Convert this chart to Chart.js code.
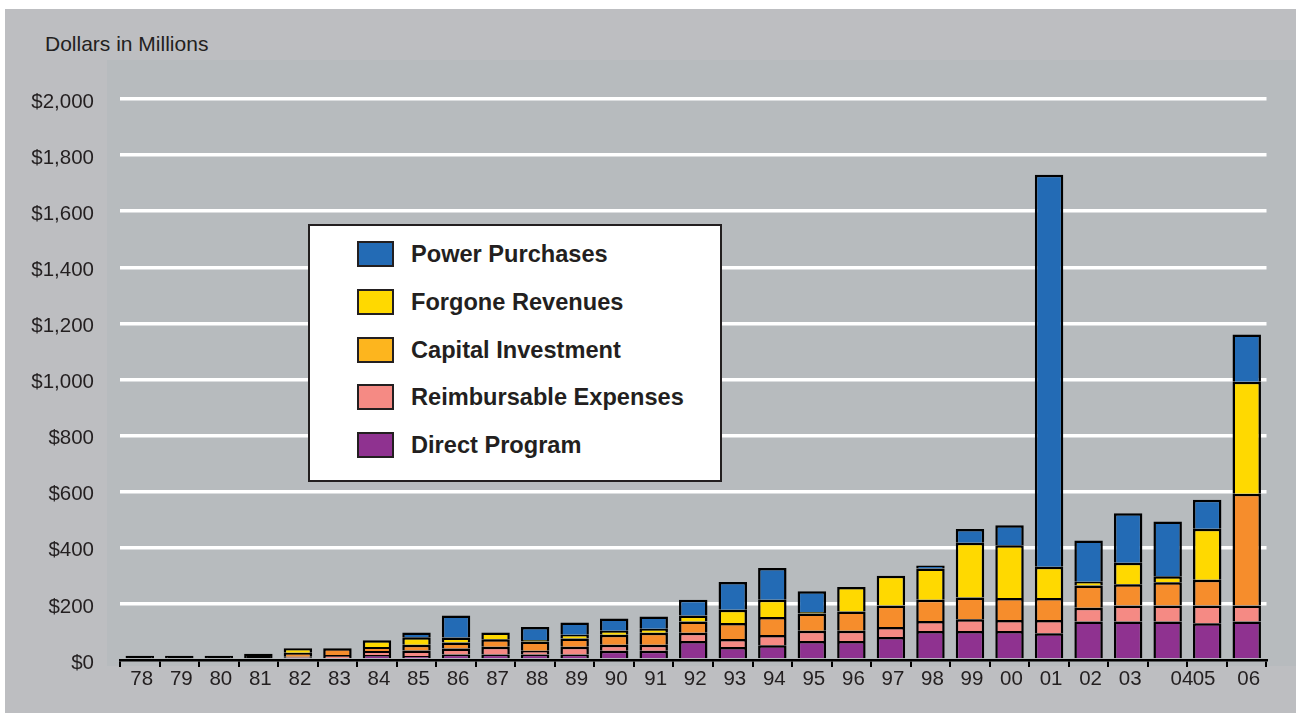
<!DOCTYPE html>
<html>
<head>
<meta charset="utf-8">
<script src="https://cdn.jsdelivr.net/npm/chart.js@4.4.1/dist/chart.umd.min.js"></script>
<style>
  html, body { margin:0; padding:0; background:#ffffff; }
  body { width:1296px; height:713px; position:relative; overflow:hidden; font-family:"Liberation Sans", Arial, Helvetica, sans-serif; color:#231F20; }
  #outer { position:absolute; left:5px; top:9px; width:1291px; height:704px; background:#BDBEC1; }
  #inner { position:absolute; left:107px; top:60px; width:1189px; height:606px; background:#B7BBBE; }
  #title { position:absolute; left:45px; top:32.5px; font-size:21px; line-height:21px; white-space:nowrap; }
  #c { position:absolute; left:0; top:0; }
  #legend { position:absolute; left:308px; top:224px; width:414px; height:258px; box-sizing:border-box; border:2.5px solid #231F20; background:#ffffff; }
  .row { position:absolute; left:46.5px; height:26px; display:flex; align-items:center; white-space:nowrap; }
  .sw { width:37px; height:26px; box-sizing:border-box; border:2.5px solid #231F20; }
  .lt { margin-left:17.5px; font-weight:bold; font-size:23.6px; line-height:26px; color:#231F20; }
</style>
</head>
<body>
<div id="outer"></div>
<div id="inner"></div>
<div id="title">Dollars in Millions</div>
<canvas id="c" width="1296" height="713"></canvas>
<div id="legend"></div>
<script>
// ---- data (millions of dollars) ----
const years = ['78','79','80','81','82','83','84','85','86','87','88','89','90','91','92','93','94','95','96','97','98','99','00','01','02','03','04','05','06'];

const directProgram        = [15,15,15,22, 8, 6,18,14,20,20,20,20,33,33,68,46,53,68,68,82,103,103,103, 95,137,137,137,131,137];
const reimbursableExpenses = [ 0, 0, 0, 0, 4,12,14,20,21,27,13,27,21,21,29,29,36,36,36,36, 36, 42, 40, 48, 49, 57, 57, 63, 57];
const capitalInvestment    = [ 0, 0, 0, 0,14,24,14,20,21,27,33,30,36,43,40,57,64,62,69,76, 76, 78, 78, 78, 80, 76, 83, 92,399];
const forgoneRevenues      = [ 0, 0, 0, 0,16, 0,24,27,18,24, 5,13,14,14,22,47,62, 5,87,106,111,195,188,111, 13, 77, 22,182,399];
const powerPurchases       = [ 0, 0, 0, 0, 0, 0, 0,17,79, 0,47,44,44,44,56,99,113,74, 0, 0, 11, 49, 71,1398,147,176,195,103,168];

const seriesNames = ['Direct Program','Reimbursable Expenses','Capital Investment','Forgone Revenues','Power Purchases'];
const seriesValues = [directProgram, reimbursableExpenses, capitalInvestment, forgoneRevenues, powerPurchases];
const yTickLabels = ['$0','$200','$400','$600','$800','$1,000','$1,200','$1,400','$1,600','$1,800','$2,000'];

// ---- styles ----
const barColors    = ['#8F3290','#F58A84','#F68D2C','#FFD900','#236BB5'];
const legendColors = ['#8F3290','#F58A84','#FDB51E','#FFD900','#236BB5'];
const textColor = '#231F20';
const fontFamily = '"Liberation Sans", Arial, Helvetica, sans-serif';

const totals = years.map((_, i) => seriesValues.reduce((s, arr) => s + arr[i], 0));

const datasets = seriesNames.map((name, k) => ({
  label: name,
  data: seriesValues[k],
  backgroundColor: (ctx) => (totals[ctx.dataIndex] < 25 ? '#000000' : barColors[k]),
  borderColor: '#000000',
  borderWidth: 2.5,
  categoryPercentage: 0.72,
  barPercentage: 1.0
}));

new Chart(document.getElementById('c'), {
  type: 'bar',
  data: { labels: years, datasets: datasets },
  options: {
    responsive: false,
    animation: false,
    devicePixelRatio: 1,
    layout: { padding: { left: 0, top: 99, right: 29.5, bottom: 21 } },
    plugins: { legend: { display: false }, tooltip: { enabled: false }, title: { display: false } },
    scales: {
      x: {
        stacked: true,
        grid: { display: true, drawOnChartArea: false, drawTicks: true, tickLength: 7, color: '#000000', lineWidth: 2, offset: true },
        border: { display: true, color: '#000000', width: 2.5 },
        ticks: {
          autoSkip: false, maxRotation: 0, minRotation: 0, padding: 0, labelOffset: 2,
          color: textColor, font: { family: fontFamily, size: 20.5 },
          callback: function (value, index) {
            const t = years[index];
            if (t === '04') return '\u2003\u2009' + t;
            if (t === '05') return t + '\u2002';
            return t;
          }
        },
        afterFit: (s) => { s.height = 32; }
      },
      y: {
        stacked: true,
        min: 0, max: 2000,
        grid: {
          drawTicks: false,
          lineWidth: 3.5,
          color: (ctx) => (ctx.tick && ctx.tick.value === 0 ? 'rgba(0,0,0,0)' : '#ffffff')
        },
        border: { display: false },
        ticks: {
          stepSize: 200, padding: 26, labelOffset: 3,
          color: textColor, font: { family: fontFamily, size: 20.5 },
          callback: (v, i) => yTickLabels[i]
        },
        afterFit: (s) => { s.width = 120; }
      }
    }
  }
});

// ---- legend (built from the series names), top entry first ----
const legend = document.getElementById('legend');
for (let r = 0; r < seriesNames.length; r++) {
  const k = seriesNames.length - 1 - r;
  const row = document.createElement('div');
  row.className = 'row';
  row.style.top = (15 + 47.8 * r) + 'px';
  const sw = document.createElement('div');
  sw.className = 'sw';
  sw.style.background = legendColors[k];
  const lt = document.createElement('span');
  lt.className = 'lt';
  lt.textContent = seriesNames[k];
  row.appendChild(sw);
  row.appendChild(lt);
  legend.appendChild(row);
}
</script>
</body>
</html>
